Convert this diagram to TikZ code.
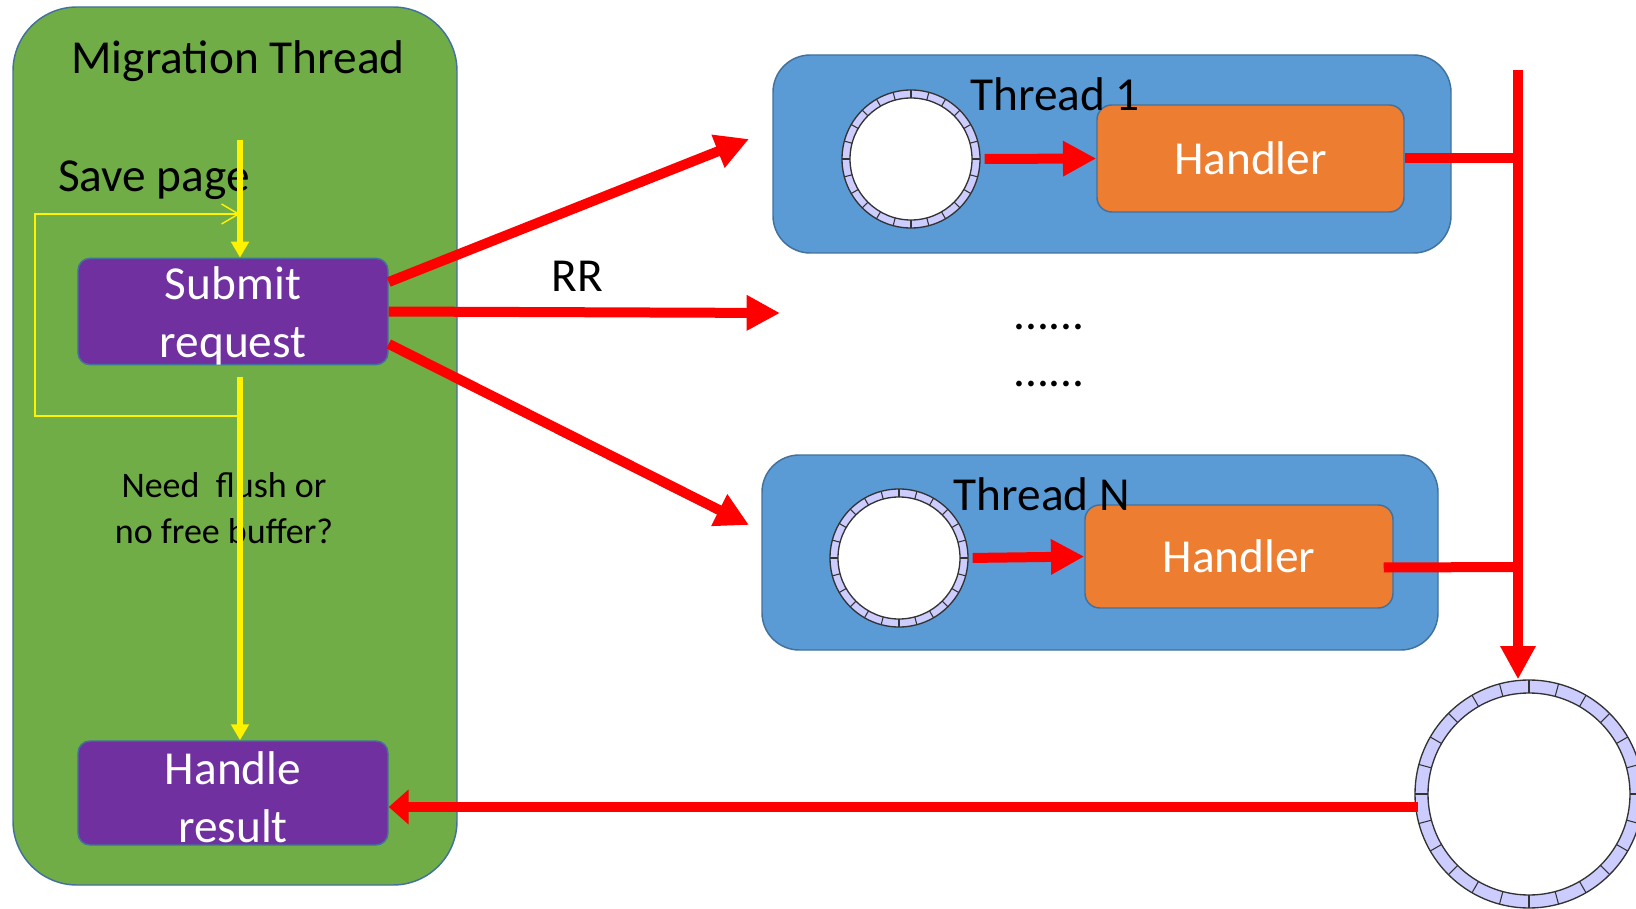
\documentclass[tikz,border=0pt]{standalone}
\usepackage{fontspec}
\setmainfont{Carlito}
\usetikzlibrary{arrows.meta,calc}

\definecolor{migGreen}{RGB}{112,173,71}
\definecolor{thrBlue}{RGB}{91,155,213}
\definecolor{hdlOrange}{RGB}{237,125,49}
\definecolor{actPurple}{RGB}{112,48,160}
\definecolor{edgeBlue}{RGB}{65,113,156}
\definecolor{ringFill}{RGB}{204,204,255}

\newcommand{\bigfont}{\fontsize{35.5}{43.5}\selectfont}
\newcommand{\notefont}{\fontsize{27}{34.5}\selectfont}
% pushes two-line box text a little down
\newcommand{\topstrut}{\rule{0pt}{30.5pt}}

\begin{document}
\begin{tikzpicture}[
    x=0.75pt, y=-0.75pt,
    box edge/.style={draw=edgeBlue,line width=1.1pt,inner sep=0pt},
    migration box/.style={box edge,fill=migGreen,rounded corners=48pt},
    thread box/.style={box edge,fill=thrBlue,rounded corners=28pt},
    handler box/.style={box edge,fill=hdlOrange,rounded corners=11pt,text=white,font=\bigfont},
    action box/.style={box edge,fill=actPurple,rounded corners=9pt,text=white,font=\bigfont,align=center},
    label text/.style={font=\bigfont,anchor=base},
    ring/.style={circle,draw=black!80,fill=ringFill,line width=1pt,inner sep=0pt},
    ring hole/.style={circle,draw=black!80,fill=white,line width=1pt,inner sep=0pt},
    ring tick/.style={black!80,line width=0.8pt},
    red line/.style={red,line width=7.5pt},
    red arrow/.style={red line,-{Triangle[length=25pt,width=25pt]}},
    flow arrow/.style={yellow,line width=4.5pt,-{Triangle[length=12pt,width=13pt]}},
    loop arrow/.style={yellow,line width=1.1pt,-{Straight Barb[length=12.75pt,width=15pt]}}
]
\useasboundingbox (0,0) rectangle (1636,909);

% Migration thread
\node[migration box,minimum width=333pt,minimum height=658.5pt] (mig) at (235,446) {};
\node[label text] (migtitle) at (238,74) {Migration Thread};
\node[label text] (savepage) at (154,192) {Save page};
\node[action box,minimum width=232.5pt,minimum height=78.75pt] (submit) at (233,311.5) {\topstrut Submit\\request};
\node[action box,minimum width=232.5pt,minimum height=78pt] (handle) at (233,793) {\topstrut Handle\\result};
% base of a two-line node sits on its last line
\node[font=\notefont,align=center,anchor=base] (flushq) at (224,543) {Need\ \ flush or\\no free buffer?};

% Worker threads
\node[thread box,minimum width=508.5pt,minimum height=148.5pt] (thread1) at (1112,154) {};
\node[thread box,minimum width=507pt,minimum height=146.25pt] (threadN) at (1100,552.5) {};
\node[handler box,minimum width=230.25pt,minimum height=80.25pt] (handler1) at (1250.5,158.5) {Handler};
\node[handler box,minimum width=231pt,minimum height=77.25pt] (handlerN) at (1239,556.5) {Handler};
\node[label text] (t1title) at (1055,111) {Thread 1};
\node[label text] (tNtitle) at (1042,510) {Thread N};
\node[label text] (dots1) at (1049,330) {......};
\node[label text] (dots2) at (1049,387) {......};
\node[label text] (rr) at (577,292) {RR};

% Ring buffers
\node[ring,minimum size=103.5pt] (ring1) at (911,159) {};
\node[ring hole,minimum size=91.5pt] at (ring1) {};
\foreach \a in {0,15,...,345}
  \draw[ring tick] (ring1.center) ++(\a:61) -- ++(\a:8);

\node[ring,minimum size=103.5pt] (ringN) at (899,558) {};
\node[ring hole,minimum size=91.5pt] at (ringN) {};
\foreach \a in {0,15,...,345}
  \draw[ring tick] (ringN.center) ++(\a:61) -- ++(\a:8);

\node[ring,minimum size=171pt] (ringres) at (1529,794) {};
\node[ring hole,minimum size=151.5pt] at (ringres) {};
\foreach \a in {0,15,...,345}
  \draw[ring tick] (ringres.center) ++(\a:101) -- ++(\a:13);

% Dispatch round robin
\coordinate (to1) at (749,139);
\coordinate (toRR) at (780,313);
\coordinate (toN) at (749,525);
\draw[red arrow] ($(submit.east)+(0,-29.5)$) -- (to1);
\draw[red arrow] (submit.east) -- (toRR);
\draw[red arrow] ($(submit.east)+(0,32.5)$) -- (toN);

% Queue to handler
\draw[red arrow,shorten <=3pt] (ring1.east) -- (handler1.west);
\draw[red arrow,shorten <=3pt] (ringN.east) -- (handlerN.west);

% Results back to the migration thread
\coordinate (bustop) at (1518,70);
\coordinate (busN) at (1518,567);
\draw[red line] (handler1.east) -- (handler1.east -| bustop);
\draw[red line] ($(handlerN.east)+(-10,11)$) -- (busN);
\draw[red arrow] (bustop) -- (bustop |- ringres.north);
\draw[red arrow,-{Triangle[length=15pt,width=25.5pt]}] ($(ringres.west)+(4,13)$) -- ($(handle.east)+(0,14)$);

% Control flow
\coordinate (flowtop) at (240,140);
\coordinate (flowmid) at (240,377);
\coordinate (loopbot) at (240,416);
\coordinate (looptop) at (240,214);
\draw[flow arrow] (flowtop) -- (flowtop |- submit.north);
\draw[flow arrow] (flowmid) -- (flowmid |- handle.north);
\draw[loop arrow] (loopbot) -- (35,416) -- (35,214) -- (looptop);

\end{tikzpicture}
\end{document}
